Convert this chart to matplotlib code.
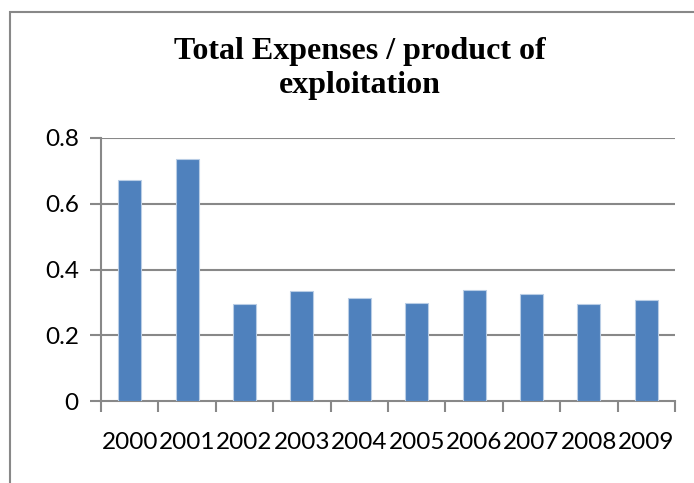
import matplotlib
matplotlib.use("Agg")
from matplotlib import pyplot as plt
from matplotlib.patches import Rectangle
import numpy as np

years = ["2000", "2001", "2002", "2003", "2004", "2005", "2006", "2007", "2008", "2009"]
ratios = [0.672, 0.737, 0.295, 0.335, 0.314, 0.297, 0.337, 0.326, 0.294, 0.306]
yticks = [0, 0.2, 0.4, 0.6, 0.8]
ytick_labels = ["0", "0.2", "0.4", "0.6", "0.8"]

W, H = 694, 483
fig = plt.figure(figsize=(W / 100, H / 100), dpi=100)

# outer chart frame (only top/left visible in the reference)
fig.patches.append(Rectangle((10 / W, -0.1), 1.2, 1 - 12 / H + 0.1, transform=fig.transFigure,
                             fill=False, edgecolor="#888888", linewidth=1.5))

ax = fig.add_axes([101 / W, 1 - 401 / H, (675 - 101) / W, (401 - 138) / H])

x = np.arange(len(years))
ax.bar(x, ratios, width=0.4, color="#4F81BD", edgecolor="#B9CDE5", linewidth=0.8, zorder=3)

ax.set_xlim(-0.5, len(years) - 0.5)
ax.set_ylim(0, 0.8)
ax.set_yticks(yticks)
ax.set_yticklabels(ytick_labels, fontfamily="Lato", fontsize=17.5)
ax.set_xticks(x)
ax.set_xticklabels(years, fontfamily="Lato", fontsize=17.5)
ax.tick_params(axis="x", length=0, pad=22)
ax.tick_params(axis="y", length=8, width=1.5, color="#888888", pad=8)

# category boundary ticks
ax.set_xticks(np.arange(-0.5, len(years)), minor=True)
ax.tick_params(axis="x", which="minor", length=8, width=1.5, color="#888888")

for v in yticks[1:]:
    ax.axhline(v, color="#888888", linewidth=1.5, zorder=1)

for s in ["top", "right"]:
    ax.spines[s].set_visible(False)
for s in ["left", "bottom"]:
    ax.spines[s].set_color("#888888")
    ax.spines[s].set_linewidth(1.5)

fig.text(360 / W, 1 - 52 / H, "Total Expenses / product of", ha="center", va="center",
         fontfamily="Liberation Serif", fontweight="bold", fontsize=23)
fig.text(360 / W, 1 - 86 / H, "exploitation", ha="center", va="center",
         fontfamily="Liberation Serif", fontweight="bold", fontsize=23)

fig.savefig("out.png", dpi=100)
